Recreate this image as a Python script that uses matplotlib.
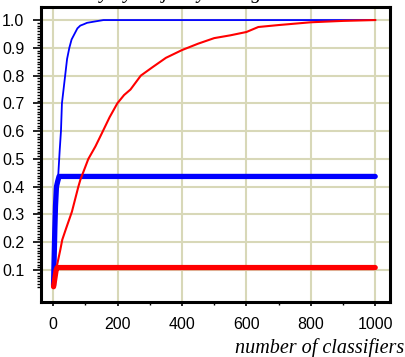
import matplotlib
matplotlib.use('Agg')
import matplotlib.pyplot as plt
import numpy as np

# values
thin_blue_x = [1, 5, 8, 10, 13, 16, 20, 24, 27, 32, 37, 43, 50, 57, 66, 75, 84, 95, 105, 130, 156, 1000]
thin_blue_y = [0.045, 0.20, 0.30, 0.36, 0.41, 0.45, 0.53, 0.60, 0.70, 0.75, 0.80, 0.86, 0.90, 0.93,
               0.95, 0.97, 0.98, 0.985, 0.99, 0.995, 1.0, 1.0]

thick_blue_x = [1, 3, 5, 7, 10, 14, 18, 1000]
thick_blue_y = [0.045, 0.15, 0.25, 0.33, 0.40, 0.42, 0.437, 0.437]

thin_red_x = [1, 5, 11, 22, 28, 40, 58, 78, 84, 109, 131, 150, 175, 199, 220, 240, 272, 308, 350,
              400, 450, 500, 550, 600, 637, 700, 750, 800, 900, 1000]
thin_red_y = [0.04, 0.08, 0.113, 0.173, 0.209, 0.25, 0.31, 0.40, 0.424, 0.50, 0.545, 0.59, 0.65,
              0.70, 0.73, 0.75, 0.80, 0.83, 0.864, 0.892, 0.915, 0.935, 0.945, 0.957, 0.975, 0.982,
              0.987, 0.992, 0.997, 1.0]

thick_red_x = [1, 5, 9, 12, 1000]
thick_red_y = [0.04, 0.07, 0.10, 0.109, 0.109]

xticks = [0, 200, 400, 600, 800, 1000]
yticks = [0.1, 0.2, 0.3, 0.4, 0.5, 0.6, 0.7, 0.8, 0.9, 1.0]

tick_font = ['Liberation Sans Narrow', 'Liberation Sans']
grid_col = '#d8d8b8'

fig = plt.figure(figsize=(4.06, 3.57), dpi=100)
ax = fig.add_axes([41/406, 1 - 302/357, 349/406, 295/357])

ax.set_axisbelow(True)
ax.grid(True, color=grid_col, linewidth=1.5)

ax.plot(thin_blue_x, thin_blue_y, color='#0000ff', linewidth=1.3)
ax.plot(thick_blue_x, thick_blue_y, color='#0000ff', linewidth=3.8, solid_capstyle='round')
ax.plot(thin_red_x, thin_red_y, color='#ff0000', linewidth=1.5)
ax.plot(thick_red_x, thick_red_y, color='#ff0000', linewidth=3.8, solid_capstyle='round')

ax.set_xlim(-38, 1046)
ax.set_ylim(-0.015, 1.047)
ax.set_xticks(xticks)
ax.set_xticks([100, 300, 500, 700, 900], minor=True)
ax.set_yticks(yticks)
ax.set_yticks(np.arange(0.04, 1.0, 0.01), minor=True)
ax.set_xticklabels([str(v) for v in xticks], family=tick_font, fontsize=11.5)
ax.set_yticklabels(['%.1f' % v for v in yticks], family=tick_font, fontsize=11.5)

ax.tick_params(axis='y', which='major', direction='out', length=6, width=1.2, pad=6)
ax.tick_params(axis='y', which='minor', direction='out', length=3, width=1.0)
ax.tick_params(axis='x', which='major', direction='out', length=3, width=1.2, pad=8)
ax.tick_params(axis='x', which='minor', direction='out', length=2, width=1.0)

for s in ax.spines.values():
    s.set_linewidth(2.2)

fig.text(404/406, 4.5/357, 'number of classifiers', ha='right', va='baseline',
         family='Liberation Serif', style='italic', fontsize=14.5)
# title is cut off at the top of the picture, only descenders show
fig.text(35/406, 1 + 2/357, 'accuracy by majority voting', ha='left', va='baseline',
         family='Liberation Serif', style='italic', fontsize=14.5)

fig.savefig('out.png', dpi=100)
